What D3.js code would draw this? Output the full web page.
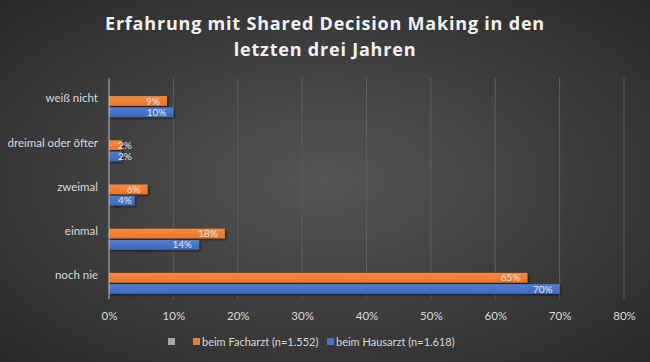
<!DOCTYPE html>
<html>
<head>
<meta charset="utf-8">
<script src="https://cdn.jsdelivr.net/npm/d3@7"></script>
<style>
  body { margin: 0; background: #333; }
  svg { display: block; font-family: Lato, "Open Sans", sans-serif; }
</style>
</head>
<body>
<div id="chart"></div>
<script>
const categories = ['weiß nicht', 'dreimal oder öfter', 'zweimal', 'einmal', 'noch nie']
const facharzt = [9, 2, 6, 18, 65]
const hausarzt = [10, 2, 4, 14, 70]
const ticks = [0, 10, 20, 30, 40, 50, 60, 70, 80]
const seriesNames = ['beim Facharzt (n=1.552)', 'beim Hausarzt (n=1.618)']

const width = 650, height = 362
const svg = d3.select('#chart').append('svg')
    .attr('width', width)
    .attr('height', height)

const defs = svg.append('defs')
const bg = defs.append('radialGradient').attr('id', 'bg')
    .attr('cx', '50%').attr('cy', '50%').attr('r', '75%')
bg.append('stop').attr('offset', '0%').attr('stop-color', '#555555')
bg.append('stop').attr('offset', '100%').attr('stop-color', '#262626')

const gradOrange = defs.append('linearGradient').attr('id', 'gOrange')
    .attr('x1', 0).attr('y1', 0).attr('x2', 0).attr('y2', 1)
gradOrange.append('stop').attr('offset', '0%').attr('stop-color', '#f68a3f')
gradOrange.append('stop').attr('offset', '100%').attr('stop-color', '#e8762b')

const gradBlue = defs.append('linearGradient').attr('id', 'gBlue')
    .attr('x1', 0).attr('y1', 0).attr('x2', 0).attr('y2', 1)
gradBlue.append('stop').attr('offset', '0%').attr('stop-color', '#4f7fd3')
gradBlue.append('stop').attr('offset', '100%').attr('stop-color', '#3d68b8')

const shadow = defs.append('filter').attr('id', 'shadow')
    .attr('x', '-5%').attr('y', '-20%').attr('width', '110%').attr('height', '160%')
shadow.append('feDropShadow').attr('dx', 1.5).attr('dy', 1.5)
    .attr('stdDeviation', 1).attr('flood-color', '#000').attr('flood-opacity', 0.5)

svg.append('rect').attr('width', width).attr('height', height).attr('fill', 'url(#bg)')

// title
const title = svg.append('text')
    .attr('text-anchor', 'middle')
    .attr('fill', '#f2f2f2')
    .style('font-family', '"Open Sans", sans-serif')
    .style('font-size', '18px')
    .style('font-weight', 'bold')
    .style('letter-spacing', '0.8px')
title.append('tspan').attr('x', width / 2).attr('y', 30).text('Erfahrung mit Shared Decision Making in den')
title.append('tspan').attr('x', width / 2).attr('y', 56).text('letzten drei Jahren')

const margin = { left: 109, right: 26, top: 78, bottom: 63 }

const x = d3.scaleLinear()
    .domain([0, 80])
    .range([margin.left, width - margin.right])

const y = d3.scaleBand()
    .domain(categories)
    .range([margin.top, height - margin.bottom])

// bars sit a little below the category label, as in the original
const sub = d3.scaleBand()
    .domain(['fach', 'haus'])
    .range([y.bandwidth() / 2 - 4, y.bandwidth() / 2 + 17])
    .paddingInner(0.14)

// grid
svg.append('g')
    .selectAll('line')
    .data(ticks.slice(1))
    .enter()
    .append('line')
    .attr('x1', d => x(d)).attr('x2', d => x(d))
    .attr('y1', margin.top).attr('y2', height - margin.bottom)
    .attr('stroke', '#5e5e5e')
    .attr('stroke-width', 1)

// x axis labels
const xAxis = d3.axisBottom(x)
    .tickValues(ticks)
    .tickFormat(d => d + '%')
    .tickSize(0)
    .tickPadding(11)

svg.append('g')
    .attr('transform', `translate(0, ${height - margin.bottom + 2})`)
    .call(xAxis)
    .call(g => g.select('.domain').remove())
    .selectAll('text')
    .attr('fill', '#d9d9d9')
    .style('font-size', '11.5px')
    .style('font-family', 'Lato, sans-serif')

// y axis labels
const yAxis = d3.axisLeft(y).tickSize(0).tickPadding(11)
svg.append('g')
    .attr('transform', `translate(${margin.left}, 0)`)
    .call(yAxis)
    .call(g => g.select('.domain').remove())
    .selectAll('text')
    .attr('fill', '#d9d9d9')
    .attr('dy', '0.2em')
    .style('font-size', '11.5px')
    .style('font-family', 'Lato, sans-serif')

const rows = categories.map((c, i) => ({ cat: c, fach: facharzt[i], haus: hausarzt[i] }))

const series = [
    { key: 'fach', fill: 'url(#gOrange)' },
    { key: 'haus', fill: 'url(#gBlue)' }
]

series.forEach(s => {
    const g = svg.append('g')
    g.selectAll('rect')
        .data(rows)
        .enter()
        .append('rect')
        .attr('x', x(0))
        .attr('y', d => y(d.cat) + sub(s.key))
        .attr('width', d => x(d[s.key]) - x(0))
        .attr('height', sub.bandwidth())
        .attr('fill', s.fill)
        .attr('filter', 'url(#shadow)')

    g.selectAll('text')
        .data(rows)
        .enter()
        .append('text')
        .attr('y', d => y(d.cat) + sub(s.key) + sub.bandwidth() / 2)
        .attr('dy', '0.36em')
        .attr('text-anchor', 'end')
        .attr('fill', '#e6e6e6')
        .style('font-size', '10px')
        .text(d => d[s.key] + '%')
        .attr('x', function(d) {
            const w = this.getComputedTextLength()
            return Math.max(x(d[s.key]) - 7, x(0) + 9 + w)
        })
})

// zero axis line
svg.append('line')
    .attr('x1', x(0)).attr('x2', x(0))
    .attr('y1', margin.top).attr('y2', height - margin.bottom)
    .attr('stroke', '#bfbfbf')
    .attr('stroke-width', 1)

// legend
const legend = svg.append('g').style('font-size', '11px')
legend.append('rect').attr('x', 168).attr('y', 338).attr('width', 7).attr('height', 7).attr('fill', '#a6a6a6')

const legendItems = [
    { name: seriesNames[0], color: '#ed7d31', x: 193 },
    { name: seriesNames[1], color: '#4472c4', x: 327 }
]
legendItems.forEach(d => {
    legend.append('rect').attr('x', d.x).attr('y', 338).attr('width', 7).attr('height', 7).attr('fill', d.color)
    legend.append('text').attr('x', d.x + 9).attr('y', 345.5).attr('fill', '#d9d9d9').text(d.name)
})
</script>
</body>
</html>
